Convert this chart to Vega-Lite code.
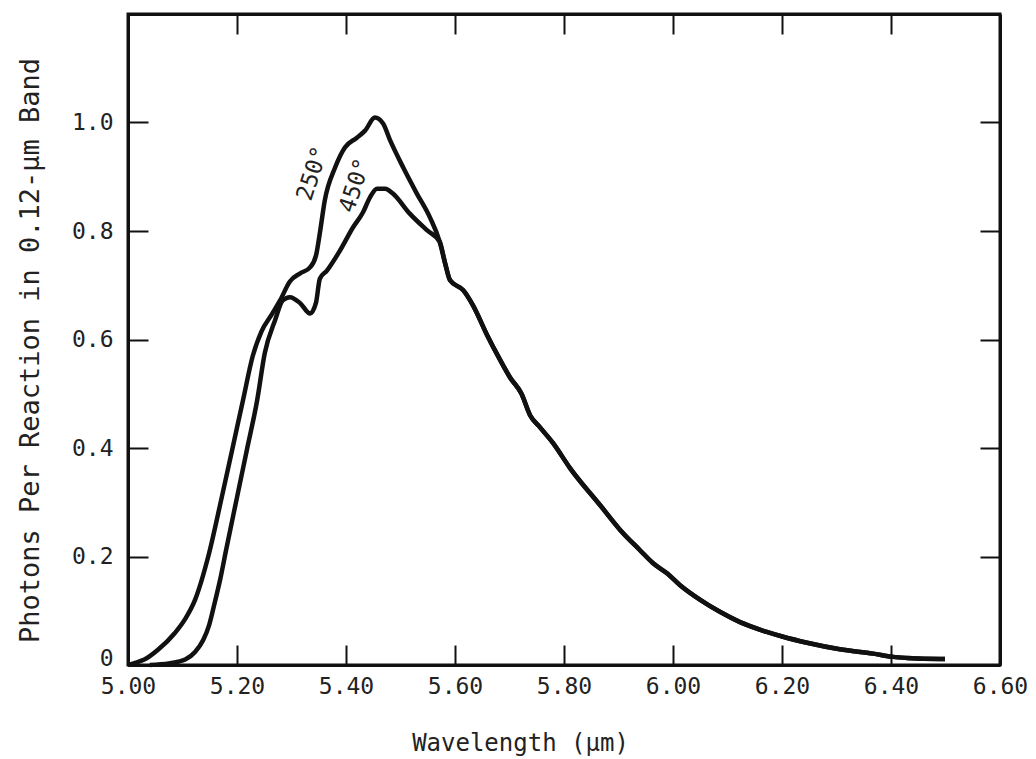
{
  "$schema": "https://vega.github.io/schema/vega-lite/v6.json",
  "width": 872,
  "height": 651,
  "autosize": "none",
  "padding": {"left": 128, "top": 14, "right": 36, "bottom": 94},
  "background": "white",
  "config": {
    "view": {"stroke": "#111", "strokeWidth": 3},
    "font": "DejaVu Sans Mono",
    "axis": {"grid": false, "domainColor": "#111", "domainWidth": 3, "tickColor": "#111", "tickWidth": 2, "labelColor": "#222", "titleColor": "#222", "labelFont": "DejaVu Sans Mono", "titleFont": "DejaVu Sans Mono", "titleFontWeight": "normal"}
  },
  "datasets": {
    "curves": [
      {"series": "250°", "wavelength": 5.000, "photons": 0.000},
      {"series": "250°", "wavelength": 5.013, "photons": 0.004},
      {"series": "250°", "wavelength": 5.030, "photons": 0.010},
      {"series": "250°", "wavelength": 5.055, "photons": 0.028},
      {"series": "250°", "wavelength": 5.086, "photons": 0.059},
      {"series": "250°", "wavelength": 5.105, "photons": 0.085},
      {"series": "250°", "wavelength": 5.123, "photons": 0.120},
      {"series": "250°", "wavelength": 5.147, "photons": 0.199},
      {"series": "250°", "wavelength": 5.172, "photons": 0.309},
      {"series": "250°", "wavelength": 5.191, "photons": 0.396},
      {"series": "250°", "wavelength": 5.211, "photons": 0.488},
      {"series": "250°", "wavelength": 5.229, "photons": 0.570},
      {"series": "250°", "wavelength": 5.245, "photons": 0.615},
      {"series": "250°", "wavelength": 5.265, "photons": 0.648},
      {"series": "250°", "wavelength": 5.279, "photons": 0.672},
      {"series": "250°", "wavelength": 5.297, "photons": 0.707},
      {"series": "250°", "wavelength": 5.316, "photons": 0.722},
      {"series": "250°", "wavelength": 5.334, "photons": 0.733},
      {"series": "250°", "wavelength": 5.345, "photons": 0.755},
      {"series": "250°", "wavelength": 5.352, "photons": 0.796},
      {"series": "250°", "wavelength": 5.361, "photons": 0.856},
      {"series": "250°", "wavelength": 5.380, "photons": 0.917},
      {"series": "250°", "wavelength": 5.398, "photons": 0.954},
      {"series": "250°", "wavelength": 5.420, "photons": 0.972},
      {"series": "250°", "wavelength": 5.435, "photons": 0.985},
      {"series": "250°", "wavelength": 5.453, "photons": 1.009},
      {"series": "250°", "wavelength": 5.468, "photons": 0.998},
      {"series": "250°", "wavelength": 5.481, "photons": 0.967},
      {"series": "250°", "wavelength": 5.505, "photons": 0.917},
      {"series": "250°", "wavelength": 5.530, "photons": 0.869},
      {"series": "250°", "wavelength": 5.554, "photons": 0.825},
      {"series": "250°", "wavelength": 5.572, "photons": 0.780},
      {"series": "250°", "wavelength": 5.582, "photons": 0.740},
      {"series": "250°", "wavelength": 5.591, "photons": 0.709},
      {"series": "250°", "wavelength": 5.615, "photons": 0.691},
      {"series": "250°", "wavelength": 5.633, "photons": 0.663},
      {"series": "250°", "wavelength": 5.659, "photons": 0.608},
      {"series": "250°", "wavelength": 5.683, "photons": 0.562},
      {"series": "250°", "wavelength": 5.701, "photons": 0.530},
      {"series": "250°", "wavelength": 5.722, "photons": 0.500},
      {"series": "250°", "wavelength": 5.738, "photons": 0.460},
      {"series": "250°", "wavelength": 5.756, "photons": 0.438},
      {"series": "250°", "wavelength": 5.780, "photons": 0.409},
      {"series": "250°", "wavelength": 5.811, "photons": 0.363},
      {"series": "250°", "wavelength": 5.866, "photons": 0.295},
      {"series": "250°", "wavelength": 5.903, "photons": 0.249},
      {"series": "250°", "wavelength": 5.939, "photons": 0.212},
      {"series": "250°", "wavelength": 5.963, "photons": 0.188},
      {"series": "250°", "wavelength": 5.989, "photons": 0.169},
      {"series": "250°", "wavelength": 6.013, "photons": 0.147},
      {"series": "250°", "wavelength": 6.050, "photons": 0.120},
      {"series": "250°", "wavelength": 6.086, "photons": 0.098},
      {"series": "250°", "wavelength": 6.123, "photons": 0.079},
      {"series": "250°", "wavelength": 6.172, "photons": 0.061},
      {"series": "250°", "wavelength": 6.202, "photons": 0.052},
      {"series": "250°", "wavelength": 6.246, "photons": 0.041},
      {"series": "250°", "wavelength": 6.306, "photons": 0.029},
      {"series": "250°", "wavelength": 6.367, "photons": 0.021},
      {"series": "250°", "wavelength": 6.404, "photons": 0.015},
      {"series": "250°", "wavelength": 6.429, "photons": 0.013},
      {"series": "250°", "wavelength": 6.490, "photons": 0.011},
      {"series": "250°", "wavelength": 6.499, "photons": 0.011},
      {"series": "450°", "wavelength": 5.040, "photons": 0.000},
      {"series": "450°", "wavelength": 5.075, "photons": 0.003},
      {"series": "450°", "wavelength": 5.092, "photons": 0.006},
      {"series": "450°", "wavelength": 5.105, "photons": 0.010},
      {"series": "450°", "wavelength": 5.123, "photons": 0.024},
      {"series": "450°", "wavelength": 5.138, "photons": 0.046},
      {"series": "450°", "wavelength": 5.149, "photons": 0.074},
      {"series": "450°", "wavelength": 5.158, "photons": 0.110},
      {"series": "450°", "wavelength": 5.169, "photons": 0.157},
      {"series": "450°", "wavelength": 5.180, "photons": 0.212},
      {"series": "450°", "wavelength": 5.200, "photons": 0.309},
      {"series": "450°", "wavelength": 5.218, "photons": 0.396},
      {"series": "450°", "wavelength": 5.237, "photons": 0.488},
      {"series": "450°", "wavelength": 5.251, "photons": 0.575},
      {"series": "450°", "wavelength": 5.270, "photons": 0.636},
      {"series": "450°", "wavelength": 5.284, "photons": 0.672},
      {"series": "450°", "wavelength": 5.297, "photons": 0.678},
      {"series": "450°", "wavelength": 5.316, "photons": 0.667},
      {"series": "450°", "wavelength": 5.334, "photons": 0.648},
      {"series": "450°", "wavelength": 5.345, "photons": 0.668},
      {"series": "450°", "wavelength": 5.352, "photons": 0.712},
      {"series": "450°", "wavelength": 5.365, "photons": 0.727},
      {"series": "450°", "wavelength": 5.389, "photons": 0.764},
      {"series": "450°", "wavelength": 5.413, "photons": 0.807},
      {"series": "450°", "wavelength": 5.431, "photons": 0.834},
      {"series": "450°", "wavelength": 5.444, "photons": 0.862},
      {"series": "450°", "wavelength": 5.457, "photons": 0.878},
      {"series": "450°", "wavelength": 5.472, "photons": 0.878},
      {"series": "450°", "wavelength": 5.486, "photons": 0.869},
      {"series": "450°", "wavelength": 5.517, "photons": 0.832},
      {"series": "450°", "wavelength": 5.549, "photons": 0.801},
      {"series": "450°", "wavelength": 5.572, "photons": 0.780},
      {"series": "450°", "wavelength": 5.582, "photons": 0.740},
      {"series": "450°", "wavelength": 5.591, "photons": 0.709},
      {"series": "450°", "wavelength": 5.615, "photons": 0.691},
      {"series": "450°", "wavelength": 5.633, "photons": 0.663},
      {"series": "450°", "wavelength": 5.659, "photons": 0.608},
      {"series": "450°", "wavelength": 5.683, "photons": 0.562},
      {"series": "450°", "wavelength": 5.701, "photons": 0.530},
      {"series": "450°", "wavelength": 5.722, "photons": 0.500},
      {"series": "450°", "wavelength": 5.738, "photons": 0.460},
      {"series": "450°", "wavelength": 5.756, "photons": 0.438},
      {"series": "450°", "wavelength": 5.780, "photons": 0.409},
      {"series": "450°", "wavelength": 5.811, "photons": 0.363},
      {"series": "450°", "wavelength": 5.866, "photons": 0.295},
      {"series": "450°", "wavelength": 5.903, "photons": 0.249},
      {"series": "450°", "wavelength": 5.939, "photons": 0.212},
      {"series": "450°", "wavelength": 5.963, "photons": 0.188},
      {"series": "450°", "wavelength": 5.989, "photons": 0.169},
      {"series": "450°", "wavelength": 6.013, "photons": 0.147},
      {"series": "450°", "wavelength": 6.050, "photons": 0.120},
      {"series": "450°", "wavelength": 6.086, "photons": 0.098},
      {"series": "450°", "wavelength": 6.123, "photons": 0.079},
      {"series": "450°", "wavelength": 6.172, "photons": 0.061},
      {"series": "450°", "wavelength": 6.202, "photons": 0.052},
      {"series": "450°", "wavelength": 6.246, "photons": 0.041},
      {"series": "450°", "wavelength": 6.306, "photons": 0.029},
      {"series": "450°", "wavelength": 6.367, "photons": 0.021},
      {"series": "450°", "wavelength": 6.404, "photons": 0.015},
      {"series": "450°", "wavelength": 6.429, "photons": 0.013},
      {"series": "450°", "wavelength": 6.490, "photons": 0.011},
      {"series": "450°", "wavelength": 6.499, "photons": 0.011}
    ],
    "curveLabels": [
      {"label": "250°", "wavelength": 5.339, "photons": 0.906},
      {"label": "450°", "wavelength": 5.417, "photons": 0.884}
    ]
  },
  "layer": [
    {
      "data": {"name": "curves"},
      "mark": {"type": "line", "stroke": "#111", "strokeWidth": 4.5, "interpolate": "monotone"},
      "encoding": {
        "x": {"field": "wavelength", "type": "quantitative", "scale": {"domain": [5, 6.6], "nice": false, "zero": false},
          "axis": {"orient": "bottom", "values": [5.0, 5.2, 5.4, 5.6, 5.8, 6.0, 6.2, 6.4, 6.6], "format": ".2f", "ticks": false, "labelPadding": 10, "labelFontSize": 23, "labelFlush": false, "labelOverlap": false,
            "title": "Wavelength (μm)", "titleFontSize": 24, "titleX": 392, "titleY": 78, "titleAlign": "center", "titleBaseline": "middle", "titleAnchor": null}},
        "y": {"field": "photons", "type": "quantitative", "scale": {"domain": [0, 1.2], "nice": false},
          "axis": {"orient": "left", "values": [0, 0.2, 0.4, 0.6, 0.8, 1.0], "labelExpr": "datum.value == 0 ? '0' : format(datum.value, '.1f')", "ticks": false, "labelPadding": 15, "labelFontSize": 23, "labelFlush": false, "labelOverlap": false,
            "labelBaseline": {"condition": {"test": "datum.value == 0", "value": "alphabetic"}, "value": "middle"},
            "title": "Photons Per Reaction in 0.12-μm Band", "titleFontSize": 27, "titleX": -98, "titleY": 336, "titleAlign": "center", "titleBaseline": "middle", "titleAngle": -90, "titleAnchor": null}},
        "detail": {"field": "series", "type": "nominal"}
      }
    },
    {
      "data": {"name": "curves"},
      "mark": {"type": "line", "opacity": 0},
      "encoding": {
        "x": {"field": "wavelength", "type": "quantitative",
          "axis": {"orient": "top", "values": [5.2, 5.4, 5.6, 5.8, 6.0, 6.2, 6.4], "labels": false, "tickSize": -20, "title": null}},
        "y": {"field": "photons", "type": "quantitative",
          "axis": {"orient": "right", "values": [0.2, 0.4, 0.6, 0.8, 1.0], "labels": false, "tickSize": -20, "title": null}},
        "detail": {"field": "series", "type": "nominal"}
      }
    },
    {
      "data": {"name": "curves"},
      "mark": {"type": "line", "opacity": 0},
      "encoding": {
        "x": {"field": "wavelength", "type": "quantitative",
          "axis": {"orient": "top", "offset": -651, "values": [5.2, 5.4, 5.6, 5.8, 6.0, 6.2, 6.4], "labels": false, "domain": false, "tickSize": 20, "title": null}},
        "y": {"field": "photons", "type": "quantitative",
          "axis": {"orient": "right", "offset": -872, "values": [0.2, 0.4, 0.6, 0.8, 1.0], "labels": false, "domain": false, "tickSize": 20, "title": null}},
        "detail": {"field": "series", "type": "nominal"}
      }
    },
    {
      "data": {"name": "curveLabels"},
      "mark": {"type": "text", "angle": -72, "fontSize": 23, "font": "DejaVu Sans Mono", "color": "#222", "align": "center", "baseline": "middle"},
      "encoding": {
        "x": {"field": "wavelength", "type": "quantitative", "axis": null},
        "y": {"field": "photons", "type": "quantitative", "axis": null},
        "text": {"field": "label"}
      }
    },
    {
      "mark": {"type": "text", "fontSize": 15, "align": "left", "baseline": "middle", "color": "#222", "text": "Δλ"},
      "encoding": {"x": {"datum": 5.862, "type": "quantitative", "axis": null}, "y": {"datum": 1.030, "type": "quantitative", "axis": null}}
    },
    {
      "mark": {"type": "text", "fontSize": 23, "align": "left", "baseline": "middle", "color": "#222", "text": "CVF"},
      "encoding": {"x": {"datum": 5.897, "type": "quantitative", "axis": null}, "y": {"datum": 0.993, "type": "quantitative", "axis": null}}
    },
    {
      "mark": {"type": "text", "fontSize": 24, "align": "left", "baseline": "middle", "color": "#222", "text": "= 0.12 μm"},
      "encoding": {"x": {"datum": 6.026, "type": "quantitative", "axis": null}, "y": {"datum": 1.027, "type": "quantitative", "axis": null}}
    },
    {
      "mark": {"type": "text", "fontSize": 24, "align": "left", "baseline": "middle", "color": "#222", "text": "Resolution = 0.02 μm"},
      "encoding": {"x": {"datum": 5.862, "type": "quantitative", "axis": null}, "y": {"datum": 0.943, "type": "quantitative", "axis": null}}
    }
  ],
  "resolve": {"axis": {"x": "independent", "y": "independent"}}
}
